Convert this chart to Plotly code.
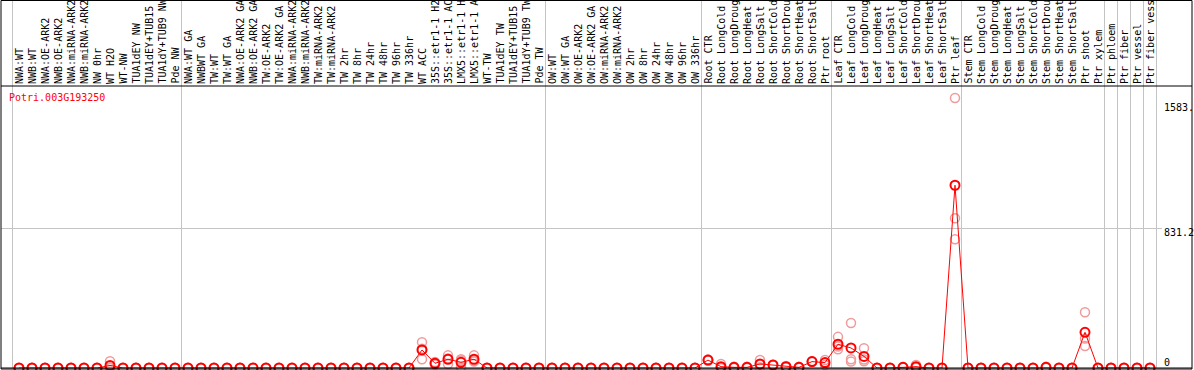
import plotly.graph_objects as go

categories = [
    "NWA:WT", "NWB:WT", "NWA:OE-ARK2", "NWB:OE-ARK2", "NWA:miRNA-ARK2", "NWB:miRNA-ARK2",
    "NW 0hr", "WT H2O", "WT-NW", "TUA1dEY NW", "TUA1dEY+TUB15", "TUA1dY+TUB9 NW", "Pde NW",
    "NWA:WT GA", "NWBWT GA", "TW:WT", "TW:WT GA", "NWA:OE-ARK2 GA", "NWB:OE-ARK2 GA",
    "TW:OE-ARK2", "TW:OE-ARK2 GA", "NWA:miRNA-ARK2", "NWB:miRNA-ARK2", "TW:miRNA-ARK2",
    "TW:miRNA-ARK2", "TW 2hr", "TW 8hr", "TW 24hr", "TW 48hr", "TW 96hr", "TW 336hr",
    "WT ACC", "35S::etr1-1 H2O", "35S::etr1-1 ACC", "LMX5::etr1-1 H2O", "LMX5::etr1-1 ACC",
    "WT-TW", "TUA1dEY TW", "TUA1dEY+TUB15", "TUA1dY+TUB9 TW", "Pde TW",
    "OW:WT", "OW:WT GA", "OW:OE-ARK2", "OW:OE-ARK2 GA", "OW:miRNA-ARK2", "OW:miRNA-ARK2",
    "OW 2hr", "OW 8hr", "OW 24hr", "OW 48hr", "OW 96hr", "OW 336hr",
    "Root CTR", "Root LongCold", "Root LongDrought", "Root LongHeat", "Root LongSalt",
    "Root ShortCold", "Root ShortDrought", "Root ShortHeat", "Root ShortSalt", "Ptr root",
    "Leaf CTR", "Leaf LongCold", "Leaf LongDrought", "Leaf LongHeat", "Leaf LongSalt",
    "Leaf ShortCold", "Leaf ShortDrought", "Leaf ShortHeat", "Leaf ShortSalt", "Ptr leaf",
    "Stem CTR", "Stem LongCold", "Stem LongDrought", "Stem LongHeat", "Stem LongSalt",
    "Stem ShortCold", "Stem ShortDrought", "Stem ShortHeat", "Stem ShortSalt", "Ptr shoot",
    "Ptr xylem", "Ptr phloem", "Ptr fiber", "Ptr vessel", "Ptr fiber vessel",
]

# mean expression per sample
mean_values = [
    0, 0, 0, 0, 0, 0, 0, 15, 0, 0, 0, 0, 0,
    0, 0, 0, 0, 0, 0, 0, 0, 0, 0, 0, 0, 0, 0, 0, 0, 0, 0,
    107, 28, 52, 34, 52, 0, 0, 0, 0, 0,
    0, 0, 0, 0, 0, 0, 0, 0, 0, 0, 0, 0,
    47, 8, 4, 4, 24, 18, 8, 4, 38, 32,
    141, 119, 69, 0, 0, 4, 8, 0, 0, 1085,
    0, 0, 0, 0, 0, 0, 4, 0, 0, 212,
    0, 0, 0, 0, 0,
]

# individual replicates
rep1 = [
    0, 0, 0, 0, 0, 0, 0, 40, 0, 0, 0, 0, 0,
    0, 0, 0, 0, 0, 0, 0, 0, 0, 0, 0, 0, 0, 0, 0, 0, 0, 0,
    153, 35, 75, 52, 75, 0, 0, 0, 0, 0,
    0, 0, 0, 0, 0, 0, 0, 0, 0, 0, 0, 0,
    50, 24, 8, 8, 47, 20, 12, 8, 40, 47,
    185, 267, 117, 0, 0, 6, 18, 0, 0, 1603,
    0, 0, 0, 0, 0, 0, 8, 0, 0, 331,
    0, 0, 0, 0, 0,
]
rep2 = [
    0, 0, 0, 0, 0, 0, 0, 5, 0, 0, 0, 0, 0,
    0, 0, 0, 0, 0, 0, 0, 0, 0, 0, 0, 0, 0, 0, 0, 0, 0, 0,
    115, 28, 57, 44, 43, 0, 0, 0, 0, 0,
    0, 0, 0, 0, 0, 0, 0, 0, 0, 0, 0, 0,
    45, 0, 4, 4, 20, 18, 8, 2, 36, 30,
    127, 52, 50, 0, 0, 4, 4, 0, 0, 889,
    0, 0, 0, 0, 0, 0, 2, 0, 0, 175,
    0, 0, 0, 0, 0,
]
rep3 = [
    0, 0, 0, 0, 0, 0, 0, 0, 0, 0, 0, 0, 0,
    0, 0, 0, 0, 0, 0, 0, 0, 0, 0, 0, 0, 0, 0, 0, 0, 0, 0,
    52, 21, 24, 6, 38, 0, 0, 0, 0, 0,
    0, 0, 0, 0, 0, 0, 0, 0, 0, 0, 0, 0,
    46, 0, 0, 0, 5, 16, 4, 2, 38, 18,
    111, 38, 40, 0, 0, 2, 2, 0, 0, 764,
    0, 0, 0, 0, 0, 0, 2, 0, 0, 130,
    0, 0, 0, 0, 0,
]

group_bounds = [-0.5, 12.5, 40.5, 52.5, 62.5, 72.5, 83.5, 84.5, 85.5, 86.5, 87.5]
gene_id = "Potri.003G193250"
y_tick_vals = [1583.6, 831.2, 0]
y_tick_text = ["1583.", "831.2", "0"]

MONO = "DejaVu Sans Mono"
W, H = 1194, 370
L, R, T, B = 1, 32, 86, 2
plot_w = W - L - R
plot_h = H - T - B
x_idx = list(range(len(categories)))

fig = go.Figure()

pink = "#f09a9a"
for reps in (rep1, rep2, rep3):
    fig.add_trace(go.Scatter(
        x=x_idx, y=reps, mode="markers", cliponaxis=False,
        marker=dict(symbol="circle-open", size=9, color=pink, line=dict(width=1.5, color=pink)),
        hoverinfo="skip", showlegend=False))

fig.add_trace(go.Scatter(
    x=x_idx, y=mean_values, mode="lines+markers", cliponaxis=False,
    line=dict(color="#ff0000", width=1),
    marker=dict(symbol="circle-open", size=9, color="#ff0000", line=dict(width=2, color="#ff0000")),
    text=categories, showlegend=False))

shapes = []
top_paper = (H - B) / plot_h  # top of the figure in paper coords
for b in group_bounds:
    shapes.append(dict(type="line", xref="x", yref="paper", x0=b, x1=b, y0=0, y1=top_paper,
                       line=dict(color="#c4c4c4", width=1), layer="below"))
right_paper = (1192 - L) / plot_w
bottom_paper = -1 / plot_h
# outer frame and header separator
shapes.append(dict(type="rect", xref="paper", yref="paper", x0=0, x1=right_paper,
                   y0=bottom_paper, y1=top_paper - 0.5 / plot_h, line=dict(color="black", width=1)))
shapes.append(dict(type="line", xref="paper", yref="paper", x0=0, x1=right_paper,
                   y0=1, y1=1, line=dict(color="black", width=1)))
shapes.append(dict(type="line", xref="paper", yref="paper", x0=0, x1=right_paper,
                   y0=0, y1=0, line=dict(color="black", width=1)))

annotations = []
for i, name in enumerate(categories):
    annotations.append(dict(x=i, y=1, xref="x", yref="paper", text=name, showarrow=False,
                            textangle=-90, xanchor="center", yanchor="bottom", yshift=1,
                            borderpad=0, font=dict(family=MONO, size=10, color="black")))
annotations.append(dict(x=(8 - L) / plot_w, y=(H - B - 91) / plot_h, xref="paper", yref="paper",
                        text=gene_id, showarrow=False, xanchor="left", yanchor="top",
                        borderpad=0, font=dict(family=MONO, size=10, color="#ff0000")))
shifts = [-6, -4, 6]
for v, t, s in zip(y_tick_vals, y_tick_text, shifts):
    annotations.append(dict(x=1, y=v, xref="paper", yref="y", text=t, showarrow=False,
                            xanchor="left", yanchor="middle", xshift=1, yshift=s, borderpad=0,
                            font=dict(family=MONO, size=10, color="black")))

fig.update_layout(
    width=W, height=H,
    margin=dict(l=L, r=R, t=T, b=B, pad=0),
    paper_bgcolor="white", plot_bgcolor="white",
    xaxis=dict(range=[-18 / 13, (1162 - 19) / 13], showgrid=False, zeroline=False,
               showticklabels=False, showline=False, fixedrange=True),
    yaxis=dict(range=[0, 282 / 0.16843], tickvals=[831.2], showgrid=True, gridcolor="#c4c4c4",
               gridwidth=1, showticklabels=False, zeroline=False, showline=False, ticks=""),
    shapes=shapes, annotations=annotations,
)

fig.write_html(
    "out.html",
    config={"displayModeBar": False},
    post_script="document.documentElement.style.margin='0';document.body.style.margin='0';"
                "document.body.style.padding='0';document.body.style.overflow='hidden';",
)
